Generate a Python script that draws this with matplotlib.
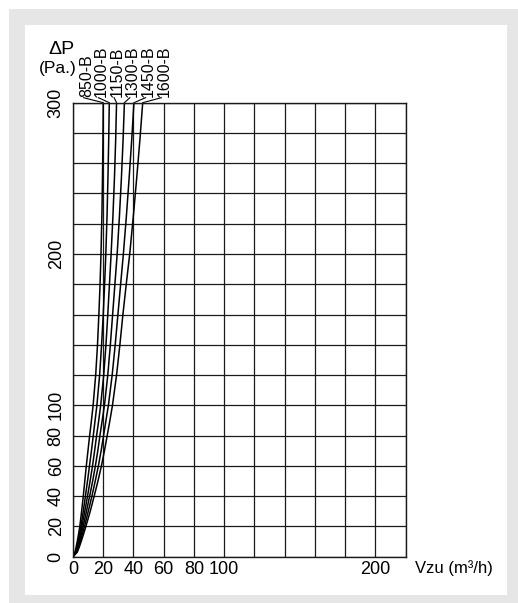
import numpy as np
import matplotlib
matplotlib.use("Agg")
import matplotlib.pyplot as plt
from matplotlib.patches import Rectangle

# ---------------- data ----------------
pressure = [0, 3, 6, 10, 15, 20, 30, 40, 50, 60, 70, 80, 90, 100, 120, 140, 160, 180, 200, 225, 250, 275, 300]  # Pa
series_names = ["850-B", "1000-B", "1150-B", "1300-B", "1450-B", "1600-B"]
v_850 = [0, 1.3, 2.0, 2.8, 3.7, 4.5, 5.7, 6.8, 7.8, 8.8, 9.9, 11.0, 12.2, 13.3, 15.0, 16.2, 17.1, 17.9, 18.5, 19.1, 19.5, 19.8, 20.0]
v_1000 = [0, 1.6, 2.4, 3.3, 4.3, 5.2, 6.8, 8.2, 9.6, 10.9, 12.2, 13.4, 14.6, 15.8, 17.6, 18.9, 20.0, 20.9, 21.7, 22.5, 23.1, 23.6, 24.0]
v_1150 = [0, 1.9, 2.8, 3.8, 4.9, 5.9, 7.8, 9.6, 11.3, 12.9, 14.3, 15.6, 17.0, 18.3, 20.3, 21.8, 23.0, 24.1, 25.2, 26.4, 27.4, 28.2, 28.8]
v_1300 = [0, 2.2, 3.2, 4.3, 5.5, 6.7, 8.9, 11.0, 13.0, 14.8, 16.4, 17.8, 19.3, 20.8, 23.0, 24.7, 26.2, 27.7, 29.2, 30.7, 32.0, 33.1, 34.0]
v_1450 = [0, 2.5, 3.6, 4.8, 6.2, 7.6, 10.1, 12.5, 14.7, 16.8, 18.6, 20.2, 21.8, 23.4, 25.9, 27.9, 29.7, 31.5, 33.3, 35.3, 37.1, 38.8, 40.3]
v_1600 = [0, 2.8, 4.0, 5.4, 7.0, 8.5, 11.4, 14.0, 16.5, 18.8, 20.8, 22.6, 24.4, 26.1, 28.8, 31.0, 33.0, 35.2, 37.5, 39.9, 42.1, 44.2, 46.1]
series_values = [v_850, v_1000, v_1150, v_1300, v_1450, v_1600]

x_ticks = [0, 20, 40, 60, 80, 100, 120, 140, 160, 180, 200, 220]
x_tick_labels = ["0", "20", "40", "60", "80", "100", "", "", "", "", "200", ""]
y_ticks = [0, 20, 40, 60, 80, 100, 120, 140, 160, 180, 200, 220, 240, 260, 280, 300]
y_tick_labels = ["0", "20", "40", "60", "80", "100", "", "", "", "", "200", "", "", "", "", "300"]

# ---------------- layout ----------------
W, H = 518, 603
fig = plt.figure(figsize=(W / 100, H / 100), dpi=100)
fig.patch.set_facecolor("white")

def rect_px(x0, y0, x1, y1, color):
    fig.patches.append(Rectangle((x0 / W, 1 - y1 / H), (x1 - x0) / W, (y1 - y0) / H,
                                 transform=fig.transFigure, facecolor=color,
                                 edgecolor="none", zorder=-10))

rect_px(9, 9, 520, 605, "#e6e6e6")
rect_px(25, 25, 507, 595, "white")

ax_l, ax_r, ax_t, ax_b = 73, 405.7, 102.7, 556.7
ax = fig.add_axes([ax_l / W, 1 - ax_b / H, (ax_r - ax_l) / W, (ax_b - ax_t) / H])
ax.set_facecolor("white")
ax.set_xlim(0, 220)
ax.set_ylim(0, 300)

narrow = ["Liberation Sans Narrow", "Liberation Sans", "DejaVu Sans"]
normal = ["Liberation Sans", "DejaVu Sans"]

ax.set_xticks(x_ticks)
ax.set_xticklabels(x_tick_labels, family=narrow, fontsize=13)
ax.set_yticks(y_ticks)
ax.set_yticklabels(y_tick_labels, family=normal, fontsize=13, rotation=90, va="center")
ax.tick_params(axis="both", length=0)
ax.tick_params(axis="x", pad=3)
ax.tick_params(axis="y", pad=6)
ax.grid(True, color="#1a1a1a", linewidth=0.9)
ax.set_axisbelow(True)
for s in ax.spines.values():
    s.set_color("#1a1a1a")
    s.set_linewidth(1.0)

for vals in series_values:
    ax.plot(vals, pressure, color="black", linewidth=1.1, solid_capstyle="butt")

# curve labels with leader lines
label_x = [8.8, 18.6, 29.0, 39.4, 49.8, 60.2]   # label centres (data units)
label_y = 303.6
for name, vals, lx in zip(series_names, series_values, label_x):
    ax.text(lx, label_y, name, rotation=90, ha="center", va="bottom",
            family=normal, fontsize=11.5, clip_on=False)
    ax.plot([lx - 1.8, vals[-1]], [label_y - 0.3, 300], color="black",
            linewidth=0.8, clip_on=False)

# axis captions
fig.text(61 / W, 1 - 50 / H, "ΔP", family=narrow, fontsize=14, ha="center", va="center")
fig.text(58 / W, 1 - 69 / H, "(Pa.)", family=narrow, fontsize=12.5, ha="center", va="center")
fig.text(415 / W, 1 - 568 / H, "Vzu (m³/h)", family=narrow, fontsize=12, ha="left", va="center")

fig.savefig("out.png", dpi=100)
